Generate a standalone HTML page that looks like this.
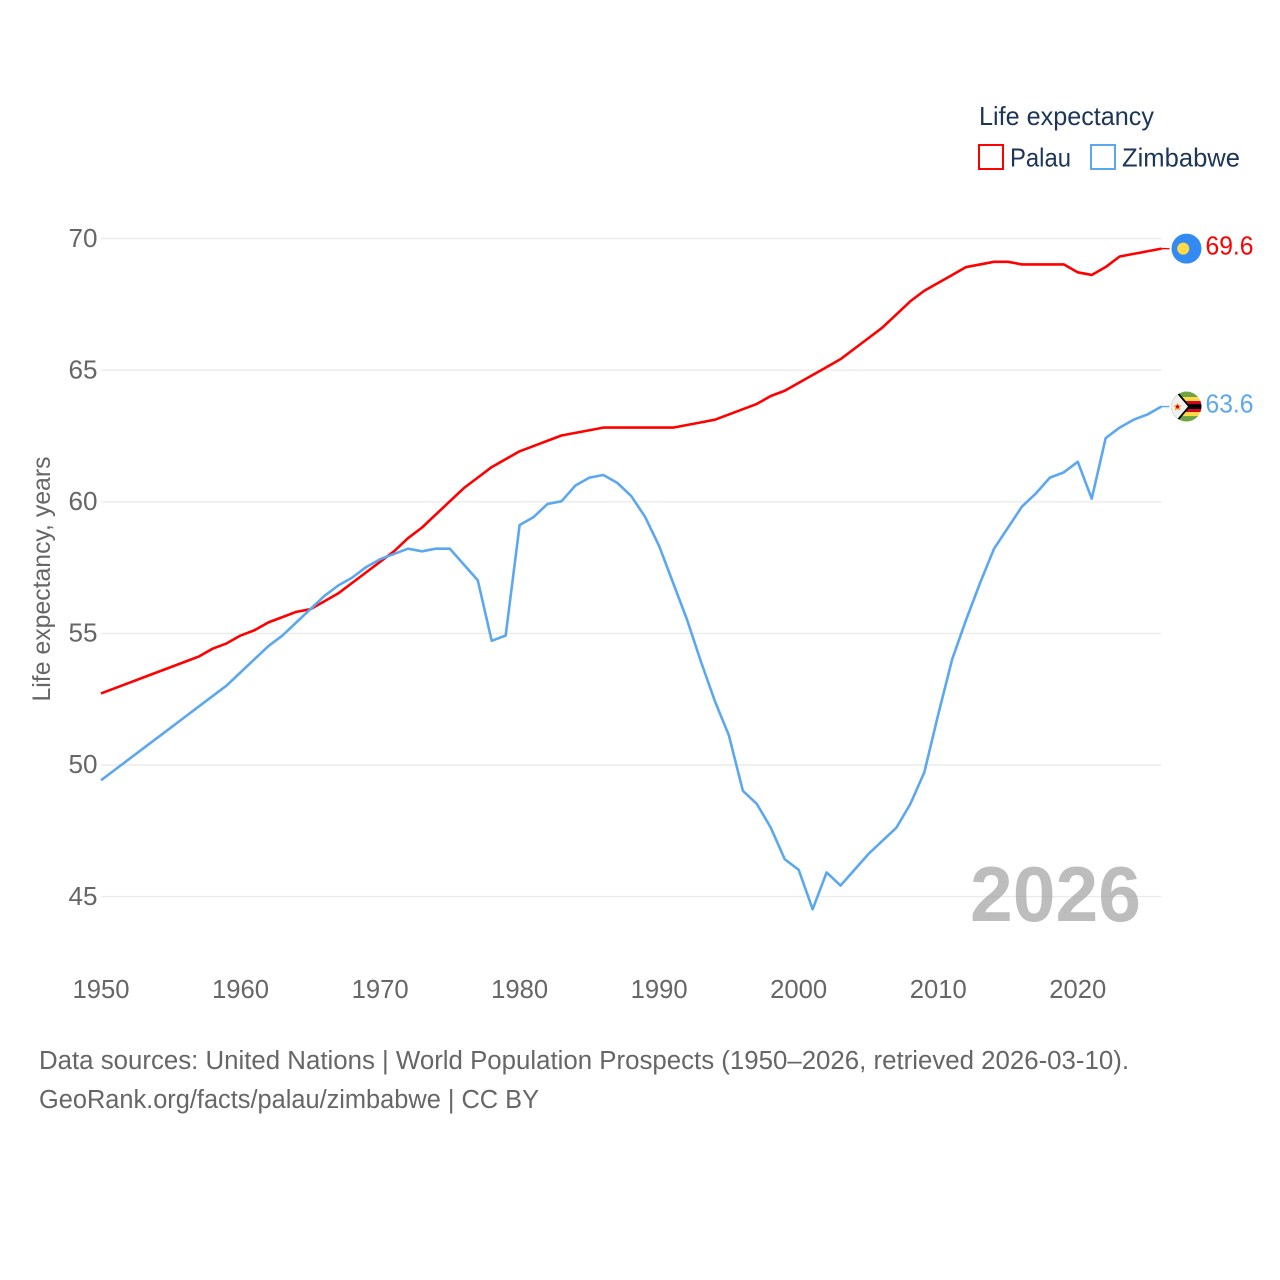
<!DOCTYPE html>
<html lang="en">
<head>
<meta charset="utf-8">
<title>Life expectancy: Palau and Zimbabwe</title>
<style>
html,body{margin:0;padding:0;background:#fff;width:1280px;height:1280px;overflow:hidden}
svg{display:block}
text{font-family:"Liberation Sans",sans-serif}
</style>
</head>
<body>
<svg id="chart" width="1280" height="1280" viewBox="0 0 1280 1280" xmlns="http://www.w3.org/2000/svg">
  <defs><clipPath id="flag-clip"><circle cx="0" cy="0" r="15"></circle></clipPath></defs>
  <rect width="1280" height="1280" fill="#fff"></rect>
  <g id="grid"></g>
  <g id="yticks"></g>
  <g id="xticks"></g>
  <text transform="translate(50,579) rotate(-90)" text-anchor="middle" font-size="25" fill="#666" textLength="245" lengthAdjust="spacingAndGlyphs">Life expectancy, years</text>
  <text x="970" y="921" font-size="78" font-weight="700" fill="#999" fill-opacity="0.65" textLength="171" lengthAdjust="spacingAndGlyphs">2026</text>
  <g id="series"></g>
  <g id="palau-flag">
    <g clip-path="url(#flag-clip)">
      <rect x="-15" y="-15" width="30" height="30" fill="#338af3"></rect>
      <circle cx="-3.3" cy="0" r="6" fill="#ffda44"></circle>
    </g>
  </g>
  <g id="zimbabwe-flag">
    <g clip-path="url(#flag-clip)">
      <rect x="-15" y="-15" width="30" height="30" fill="#f0f0f0"></rect>
      <rect x="-15" y="-15" width="30" height="5.5" fill="#6da544"></rect>
      <rect x="-15" y="-9.5" width="30" height="4" fill="#ffda44"></rect>
      <rect x="-15" y="-5.5" width="30" height="3" fill="#d80027"></rect>
      <rect x="-15" y="-2.5" width="30" height="5" fill="#000"></rect>
      <rect x="-15" y="2.5" width="30" height="3" fill="#d80027"></rect>
      <rect x="-15" y="5.5" width="30" height="4" fill="#ffda44"></rect>
      <rect x="-15" y="9.5" width="30" height="5.5" fill="#6da544"></rect>
      <polygon points="-15,-15 -9,-15 4,0 -9,15 -15,15" fill="#000"></polygon>
      <polygon points="-15,-13.5 -10,-13.5 1.5,0 -10,13.5 -15,13.5" fill="#f0f0f0"></polygon>
      <polygon points="-9,-4 -7.8,-1.2 -5,-1.2 -7,1 -6.2,4 -9,2.3 -11.8,4 -11,1 -13,-1.2 -10.2,-1.2" fill="#ff9811"></polygon>
      <circle cx="-9" cy="0.2" r="1.6" fill="#d80027"></circle>
    </g>
  </g>
  <g id="end-labels"></g>
  <g>
    <text x="979" y="125" font-size="26" fill="#1d3557" textLength="175" lengthAdjust="spacingAndGlyphs">Life expectancy</text>
    <g>
      <rect x="979" y="145" width="24" height="24" fill="none" stroke="#ff0000" stroke-width="2"></rect>
      <text x="1010" y="166.7" font-size="26" fill="#1d3557" textLength="61" lengthAdjust="spacingAndGlyphs">Palau</text>
    </g>
    <g>
      <rect x="1091" y="145" width="24" height="24" fill="none" stroke="#5ba8ee" stroke-width="2"></rect>
      <text x="1122" y="166.7" font-size="26" fill="#1d3557" textLength="118" lengthAdjust="spacingAndGlyphs">Zimbabwe</text>
    </g>
  </g>
  <text x="39" y="1069" font-size="25.5" fill="#666" textLength="1090" lengthAdjust="spacingAndGlyphs">Data sources: United Nations | World Population Prospects (1950–2026, retrieved 2026-03-10).</text>
  <text x="39" y="1108" font-size="25.5" fill="#666" textLength="500" lengthAdjust="spacingAndGlyphs">GeoRank.org/facts/palau/zimbabwe | CC BY</text>
</svg>
<script>
const startYear = 1950;
const endYear = 2026;
const xTickLabels = [1950, 1960, 1970, 1980, 1990, 2000, 2010, 2020];
const yTickLabels = [45, 50, 55, 60, 65, 70];
const palauValues = [52.7,52.9,53.1,53.3,53.5,53.7,53.9,54.1,54.4,54.6,54.9,55.1,55.4,55.6,55.8,55.9,56.2,56.5,56.9,57.3,57.7,58.1,58.6,59.0,59.5,60.0,60.5,60.9,61.3,61.6,61.9,62.1,62.3,62.5,62.6,62.7,62.8,62.8,62.8,62.8,62.8,62.8,62.9,63.0,63.1,63.3,63.5,63.7,64.0,64.2,64.5,64.8,65.1,65.4,65.8,66.2,66.6,67.1,67.6,68.0,68.3,68.6,68.9,69.0,69.1,69.1,69.0,69.0,69.0,69.0,68.7,68.6,68.9,69.3,69.4,69.5,69.6];
const zimbabweValues = [49.4,49.8,50.2,50.6,51.0,51.4,51.8,52.2,52.6,53.0,53.5,54.0,54.5,54.9,55.4,55.9,56.4,56.8,57.1,57.5,57.8,58.0,58.2,58.1,58.2,58.2,57.6,57.0,54.7,54.9,59.1,59.4,59.9,60.0,60.6,60.9,61.0,60.7,60.2,59.4,58.3,56.9,55.5,53.9,52.4,51.1,49.0,48.5,47.6,46.4,46.0,44.5,45.9,45.4,46.0,46.6,47.1,47.6,48.5,49.7,51.9,54.0,55.5,56.9,58.2,59.0,59.8,60.3,60.9,61.1,61.5,60.1,62.4,62.8,63.1,63.3,63.6];

const NS = 'http://www.w3.org/2000/svg';
const plotLeft = 101, plotRight = 1161.5;
const xScale = function (year) {
  return plotLeft + (year - startYear) * (plotRight - plotLeft) / (endYear - startYear);
};
const yScale = function (value) {
  return 238.6 + (70 - value) * 26.32;
};
const seriesOffsetY = -0.5;
function make(tag, parent, attrs, content) {
  const el = document.createElementNS(NS, tag);
  for (const key in attrs) el.setAttribute(key, attrs[key]);
  if (content !== undefined) el.textContent = content;
  parent.appendChild(el);
  return el;
}

const gridGroup = document.getElementById('grid');
const yTickGroup = document.getElementById('yticks');
yTickLabels.forEach(function (tick) {
  const line = make('line', gridGroup, {x1: plotLeft, x2: plotRight, y1: yScale(tick), y2: yScale(tick), stroke: '#ebebeb', 'stroke-width': 1.4});
  
  
  const label = make('text', yTickGroup, {x: 68.5, y: yScale(tick) + 8.2, 'font-size': 25.5, fill: '#666', textLength: 29, lengthAdjust: 'spacingAndGlyphs'}, String(tick));
  
  
});

const xTickGroup = document.getElementById('xticks');
xTickLabels.forEach(function (tick) {
  const label = make('text', xTickGroup, {x: xScale(tick) - 28.5, y: 998, 'font-size': 25.5, fill: '#666', textLength: 57, lengthAdjust: 'spacingAndGlyphs'}, String(tick));
  
  
});

function seriesPoints(values) {
  return values.map(function (v, i) {
    return xScale(startYear + i).toFixed(2) + ',' + (yScale(v) + seriesOffsetY).toFixed(2);
  }).join(' ');
}

const seriesGroup = document.getElementById('series');
const labelGroup = document.getElementById('end-labels');

const palauLine = make('polyline', seriesGroup, {points: seriesPoints(palauValues), fill: 'none', stroke: '#ff0000', 'stroke-width': 2.6, 'stroke-linejoin': 'round'});



const zimbabweLine = make('polyline', seriesGroup, {points: seriesPoints(zimbabweValues), fill: 'none', stroke: '#5ba8ee', 'stroke-width': 2.6, 'stroke-linejoin': 'round'});



const palauLast = palauValues[palauValues.length - 1];
const zimbabweLast = zimbabweValues[zimbabweValues.length - 1];
const palauEndY = yScale(palauLast) + seriesOffsetY;
const zimbabweEndY = yScale(zimbabweLast) + seriesOffsetY;

const palauConnector = make('line', seriesGroup, {x1: plotRight, x2: 1169.5, y1: palauEndY, y2: palauEndY, stroke: '#ff0000', 'stroke-width': 1.4});



const zimbabweConnector = make('line', seriesGroup, {x1: plotRight, x2: 1169.5, y1: zimbabweEndY, y2: zimbabweEndY, stroke: '#5ba8ee', 'stroke-width': 1.4});



document.getElementById('palau-flag').setAttribute('transform', 'translate(1186.5,' + palauEndY + ')');
document.getElementById('zimbabwe-flag').setAttribute('transform', 'translate(1186.5,' + zimbabweEndY + ')');

const palauLabel = make('text', labelGroup, {x: 1205.5, y: palauEndY + 6, 'font-size': 25.5, fill: '#ff0000', textLength: 48, lengthAdjust: 'spacingAndGlyphs'}, palauLast.toFixed(1));



const zimbabweLabel = make('text', labelGroup, {x: 1205.5, y: zimbabweEndY + 6, 'font-size': 25.5, fill: '#5ba8ee', textLength: 48, lengthAdjust: 'spacingAndGlyphs'}, zimbabweLast.toFixed(1));


</script>
</body>
</html>
